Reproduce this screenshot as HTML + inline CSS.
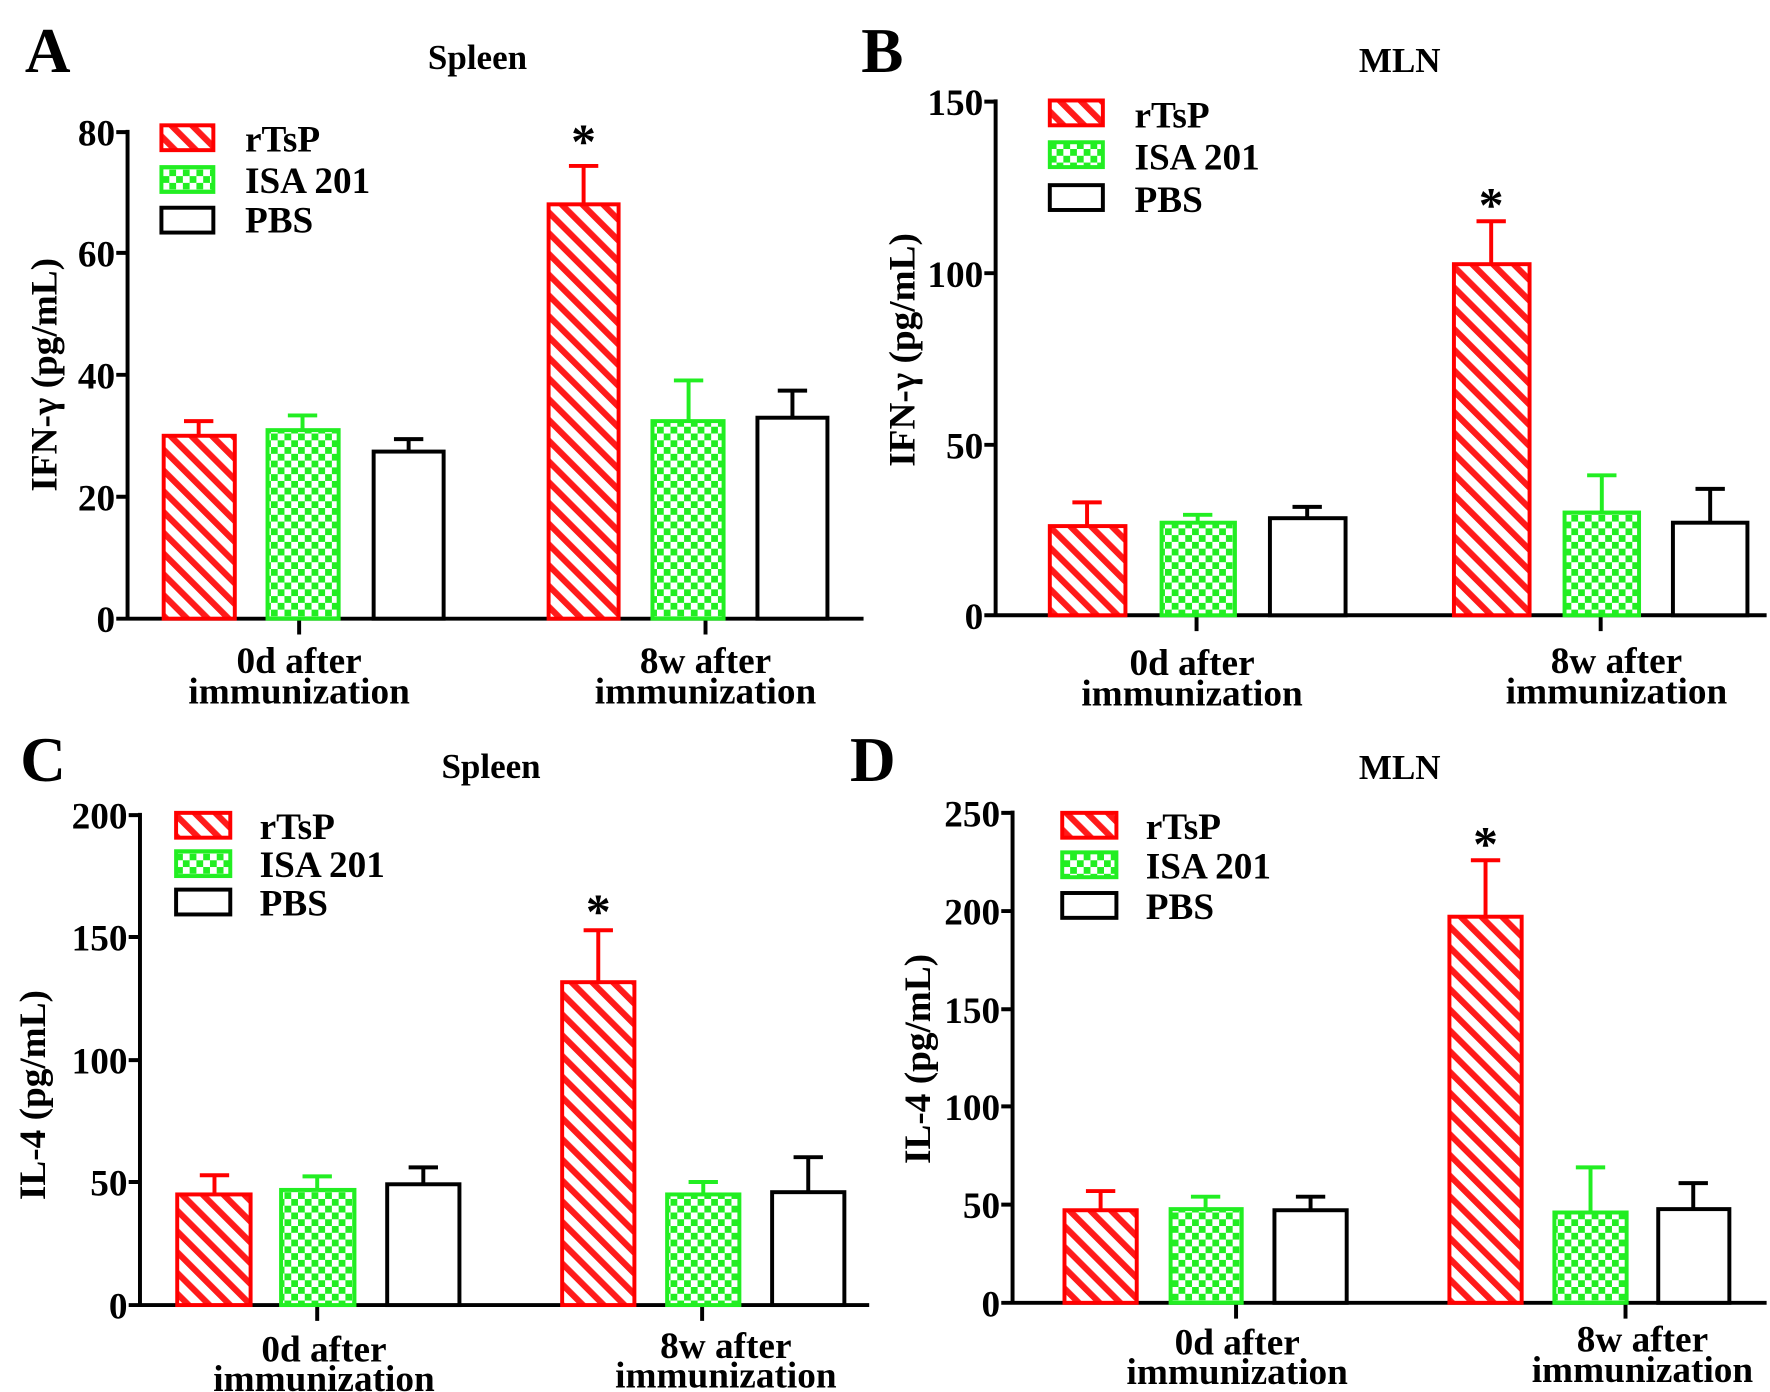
<!DOCTYPE html>
<html><head><meta charset="utf-8"><style>html,body{margin:0;padding:0;background:#fff}svg{display:block}</style></head>
<body>
<svg width="1770" height="1392" viewBox="0 0 1568 1233" preserveAspectRatio="none" xmlns="http://www.w3.org/2000/svg" style="font-family:'Liberation Serif',serif" font-weight="bold">
<defs>
<pattern id="st" patternUnits="userSpaceOnUse" width="13" height="13" patternTransform="rotate(-45)">
<rect width="13" height="13" fill="#fff"/><rect width="5.5" height="13" fill="#ff1a1a"/>
</pattern>
<pattern id="ck" patternUnits="userSpaceOnUse" width="12" height="12">
<rect width="12" height="12" fill="#fff"/><rect width="6" height="6" fill="#22ee22"/><rect x="6" y="6" width="6" height="6" fill="#22ee22"/>
</pattern>
</defs>
<style>
.r{fill:url(#st);stroke:#f00;stroke-width:3.5}
.g{fill:url(#ck);stroke:#2e2;stroke-width:3.5}
.p{fill:#fff;stroke:#000;stroke-width:3.5}
.er{stroke:#f00;stroke-width:3.5}
.eg{stroke:#2e2;stroke-width:3.5}
.ep{stroke:#000;stroke-width:3.5}
.ax{stroke:#000;stroke-width:3.5;fill:none}
.t{font-size:33px}
.lg{font-size:33px}
.big{font-size:56px}
.ti{font-size:31px}
</style>

<!-- Panel A -->
<text x="22" y="64" class="big">A</text>
<text x="423" y="61" class="ti" text-anchor="middle">Spleen</text>
<path class="ax" d="M113 115V548H765M103 117H113M103 224H113M103 332H113M103 440H113M103 548H113M265 548V562M625 548V562"/>
<g class="t" text-anchor="end"><text x="102" y="129">80</text><text x="102" y="236">60</text><text x="102" y="344">40</text><text x="102" y="452">20</text><text x="102" y="560">0</text></g>
<text transform="translate(50,332) rotate(-90)" class="t" text-anchor="middle">IFN-γ  (pg/mL)</text>
<line class="er" x1="176" y1="386" x2="176" y2="373"/><line class="er" x1="163" y1="373" x2="189" y2="373"/>
<rect class="r" x="145" y="386" width="63" height="162"/>
<line class="eg" x1="268" y1="381" x2="268" y2="368"/><line class="eg" x1="255" y1="368" x2="281" y2="368"/>
<rect class="g" x="237" y="381" width="63" height="167"/>
<line class="ep" x1="362" y1="400" x2="362" y2="389"/><line class="ep" x1="349" y1="389" x2="375" y2="389"/>
<rect class="p" x="331" y="400" width="62" height="148"/>
<line class="er" x1="517" y1="181" x2="517" y2="147"/><line class="er" x1="504" y1="147" x2="530" y2="147"/>
<rect class="r" x="486" y="181" width="62" height="367"/>
<line class="eg" x1="610" y1="373" x2="610" y2="337"/><line class="eg" x1="597" y1="337" x2="623" y2="337"/>
<rect class="g" x="578" y="373" width="63" height="175"/>
<line class="ep" x1="702" y1="370" x2="702" y2="346"/><line class="ep" x1="689" y1="346" x2="715" y2="346"/>
<rect class="p" x="671" y="370" width="62" height="178"/>
<text x="517" y="140" text-anchor="middle" style="font-size:44px">*</text>
<rect class="r" x="143" y="111" width="46" height="22"/><rect class="g" x="143" y="148" width="46" height="22"/><rect class="p" x="143" y="184" width="46" height="22"/>
<g class="lg"><text x="217" y="134">rTsP</text><text x="217" y="171">ISA 201</text><text x="217" y="206">PBS</text></g>
<g class="t" text-anchor="middle"><text x="265" y="596">0d after</text><text x="265" y="623">immunization</text><text x="625" y="596">8w after</text><text x="625" y="623">immunization</text></g>

<!-- Panel B -->
<text x="763" y="64" class="big">B</text>
<text x="1240" y="64" class="ti" text-anchor="middle">MLN</text>
<path class="ax" d="M882 88V545H1565M872 90H882M872 242H882M872 394H882M872 545H882M1060 545V559M1418 545V559"/>
<g class="t" text-anchor="end"><text x="871" y="102">150</text><text x="871" y="254">100</text><text x="871" y="406">50</text><text x="871" y="557">0</text></g>
<text transform="translate(810,310) rotate(-90)" class="t" text-anchor="middle">IFN-γ  (pg/mL)</text>
<line class="er" x1="963" y1="466" x2="963" y2="445"/><line class="er" x1="950" y1="445" x2="976" y2="445"/>
<rect class="r" x="930" y="466" width="67" height="79"/>
<line class="eg" x1="1061" y1="463" x2="1061" y2="456"/><line class="eg" x1="1048" y1="456" x2="1074" y2="456"/>
<rect class="g" x="1029" y="463" width="65" height="82"/>
<line class="ep" x1="1158" y1="459" x2="1158" y2="449"/><line class="ep" x1="1145" y1="449" x2="1171" y2="449"/>
<rect class="p" x="1125" y="459" width="67" height="86"/>
<line class="er" x1="1321" y1="234" x2="1321" y2="196"/><line class="er" x1="1308" y1="196" x2="1334" y2="196"/>
<rect class="r" x="1288" y="234" width="67" height="311"/>
<line class="eg" x1="1419" y1="454" x2="1419" y2="421"/><line class="eg" x1="1406" y1="421" x2="1432" y2="421"/>
<rect class="g" x="1386" y="454" width="66" height="91"/>
<line class="ep" x1="1515" y1="463" x2="1515" y2="433"/><line class="ep" x1="1502" y1="433" x2="1528" y2="433"/>
<rect class="p" x="1482" y="463" width="66" height="82"/>
<text x="1321" y="196" text-anchor="middle" style="font-size:44px">*</text>
<rect class="r" x="930" y="89" width="47" height="22"/><rect class="g" x="930" y="126" width="47" height="22"/><rect class="p" x="930" y="164" width="47" height="22"/>
<g class="lg"><text x="1005" y="113">rTsP</text><text x="1005" y="150">ISA 201</text><text x="1005" y="188">PBS</text></g>
<g class="t" text-anchor="middle"><text x="1056" y="598">0d after</text><text x="1056" y="625">immunization</text><text x="1432" y="596">8w after</text><text x="1432" y="623">immunization</text></g>

<!-- Panel C -->
<text x="18" y="692" class="big">C</text>
<text x="435" y="689" class="ti" text-anchor="middle">Spleen</text>
<path class="ax" d="M124 720V1156H770M114 722H124M114 830H124M114 939H124M114 1047H124M114 1156H124M281 1156V1170M622 1156V1170"/>
<g class="t" text-anchor="end"><text x="113" y="734">200</text><text x="113" y="842">150</text><text x="113" y="951">100</text><text x="113" y="1059">50</text><text x="113" y="1168">0</text></g>
<text transform="translate(40,970) rotate(-90)" class="t" text-anchor="middle">IL-4 (pg/mL)</text>
<line class="er" x1="190" y1="1058" x2="190" y2="1041"/><line class="er" x1="177" y1="1041" x2="203" y2="1041"/>
<rect class="r" x="157" y="1058" width="65" height="98"/>
<line class="eg" x1="281" y1="1054" x2="281" y2="1042"/><line class="eg" x1="268" y1="1042" x2="294" y2="1042"/>
<rect class="g" x="249" y="1054" width="65" height="102"/>
<line class="ep" x1="375" y1="1049" x2="375" y2="1034"/><line class="ep" x1="362" y1="1034" x2="388" y2="1034"/>
<rect class="p" x="343" y="1049" width="64" height="107"/>
<line class="er" x1="530" y1="870" x2="530" y2="824"/><line class="er" x1="517" y1="824" x2="543" y2="824"/>
<rect class="r" x="498" y="870" width="64" height="286"/>
<line class="eg" x1="623" y1="1058" x2="623" y2="1047"/><line class="eg" x1="610" y1="1047" x2="636" y2="1047"/>
<rect class="g" x="591" y="1058" width="64" height="98"/>
<line class="ep" x1="716" y1="1056" x2="716" y2="1025"/><line class="ep" x1="703" y1="1025" x2="729" y2="1025"/>
<rect class="p" x="684" y="1056" width="64" height="100"/>
<text x="530" y="822" text-anchor="middle" style="font-size:44px">*</text>
<rect class="r" x="156" y="720" width="48" height="22"/><rect class="g" x="156" y="754" width="48" height="22"/><rect class="p" x="156" y="788" width="48" height="22"/>
<g class="lg"><text x="230" y="743">rTsP</text><text x="230" y="777">ISA 201</text><text x="230" y="811">PBS</text></g>
<g class="t" text-anchor="middle"><text x="287" y="1206">0d after</text><text x="287" y="1232">immunization</text><text x="643" y="1203">8w after</text><text x="643" y="1229">immunization</text></g>

<!-- Panel D -->
<text x="753" y="692" class="big">D</text>
<text x="1240" y="690" class="ti" text-anchor="middle">MLN</text>
<path class="ax" d="M897 718V1154H1565M887 720H897M887 807H897M887 894H897M887 980H897M887 1067H897M887 1154H897M1095 1154V1168M1440 1154V1168"/>
<g class="t" text-anchor="end"><text x="886" y="732">250</text><text x="886" y="819">200</text><text x="886" y="906">150</text><text x="886" y="992">100</text><text x="886" y="1079">50</text><text x="886" y="1166">0</text></g>
<text transform="translate(824,938) rotate(-90)" class="t" text-anchor="middle">IL-4 (pg/mL)</text>
<line class="er" x1="975" y1="1072" x2="975" y2="1055"/><line class="er" x1="962" y1="1055" x2="988" y2="1055"/>
<rect class="r" x="943" y="1072" width="64" height="82"/>
<line class="eg" x1="1068" y1="1071" x2="1068" y2="1060"/><line class="eg" x1="1055" y1="1060" x2="1081" y2="1060"/>
<rect class="g" x="1037" y="1071" width="63" height="83"/>
<line class="ep" x1="1161" y1="1072" x2="1161" y2="1060"/><line class="ep" x1="1148" y1="1060" x2="1174" y2="1060"/>
<rect class="p" x="1129" y="1072" width="64" height="82"/>
<line class="er" x1="1316" y1="812" x2="1316" y2="762"/><line class="er" x1="1303" y1="762" x2="1329" y2="762"/>
<rect class="r" x="1284" y="812" width="64" height="342"/>
<line class="eg" x1="1409" y1="1074" x2="1409" y2="1034"/><line class="eg" x1="1396" y1="1034" x2="1422" y2="1034"/>
<rect class="g" x="1377" y="1074" width="64" height="80"/>
<line class="ep" x1="1500" y1="1071" x2="1500" y2="1048"/><line class="ep" x1="1487" y1="1048" x2="1513" y2="1048"/>
<rect class="p" x="1469" y="1071" width="63" height="83"/>
<text x="1316" y="762" text-anchor="middle" style="font-size:44px">*</text>
<rect class="r" x="941" y="720" width="48" height="22"/><rect class="g" x="941" y="755" width="48" height="22"/><rect class="p" x="941" y="791" width="48" height="22"/>
<g class="lg"><text x="1015" y="743">rTsP</text><text x="1015" y="778">ISA 201</text><text x="1015" y="814">PBS</text></g>
<g class="t" text-anchor="middle"><text x="1096" y="1200">0d after</text><text x="1096" y="1226">immunization</text><text x="1455" y="1197">8w after</text><text x="1455" y="1224">immunization</text></g>
</svg>
</body></html>
